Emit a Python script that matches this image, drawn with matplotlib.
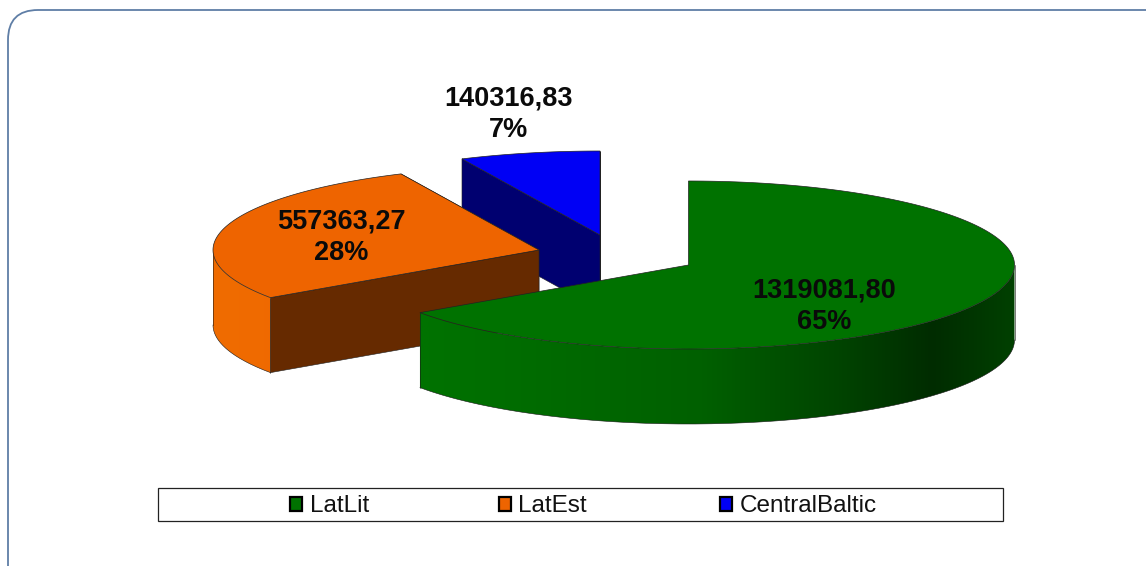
import numpy as np
import matplotlib
matplotlib.use('Agg')
import matplotlib.pyplot as plt
from matplotlib.colors import LinearSegmentedColormap
from matplotlib.patches import Polygon, Rectangle, FancyBboxPatch

labels = ['LatLit', 'LatEst', 'CentralBaltic']
values = [1319081.80, 557363.27, 140316.83]
value_text = ['1319081,80', '557363,27', '140316,83']
percent_text = ['65%', '28%', '7%']

top_colors = ['#007200', '#ee6400', '#0000f5']
side_colors = ['#004a00', '#662a00', '#000070']
wall_colors = [[(0, '#007200'), (0.1, '#007200'), (0.52, '#006000'), (0.73, '#004400'),
                (0.875, '#002c00'), (1, '#004000')],
               [(0, '#f06c00'), (0.3, '#ee6400'), (1, '#ee6400')],
               [(0, '#000070'), (1, '#000070')]]

W, H = 1146, 566
RX, RY, DEPTH = 326, 84, 75
centers = [(688.5, 265), (539, 250), (600, 235)]
text_pos = [(824, 306), (341, 237), (509, 114)]


# punkt na elipsie, kat liczony od gory zgodnie z zegarem
def ell(c, a):
    a = np.radians(a)
    return c[0] + RX * np.sin(a), c[1] - RY * np.cos(a)


fig = plt.figure(figsize=(W / 100, H / 100), dpi=100)
ax = fig.add_axes([0, 0, 1, 1])
ax.axis('off')

# ramka
ax.add_patch(FancyBboxPatch((8, 10), W + 40, H + 40, boxstyle='round,pad=0,rounding_size=30',
                            fc='white', ec='#5f7ea6', lw=1.3))

fractions = np.array(values) / sum(values)
ends = np.cumsum(fractions) * 360
starts = np.r_[0, ends[:-1]]


def sciana(a, b, c, cols, z):
    # zaokraglona sciana: gradient przyciety do ksztaltu
    ang = np.linspace(a, b, 150)
    xe, ye = ell(c, ang)
    pts = np.r_[np.column_stack([xe, ye]), np.column_stack([xe, ye + DEPTH])[::-1]]
    shape = Polygon(pts, fc='none', ec='none', zorder=z)
    ax.add_patch(shape)
    cmap = LinearSegmentedColormap.from_list('w', cols)
    grad = np.linspace(0, 1, 512).reshape(1, -1)
    im = ax.imshow(grad, cmap=cmap, aspect='auto', zorder=z,
                   extent=[c[0] - RX, c[0] + RX, c[1] + RY + DEPTH, c[1] - RY])
    im.set_clip_path(shape)
    ax.plot(xe, ye + DEPTH, color='#1a1a1a', lw=0.4, zorder=z + 0.1)
    ax.plot([xe[0], xe[0]], [ye[0], ye[0] + DEPTH], color='#1a1a1a', lw=0.4, zorder=z + 0.1)
    ax.plot([xe[-1], xe[-1]], [ye[-1], ye[-1] + DEPTH], color='#1a1a1a', lw=0.4, zorder=z + 0.1)


# kolejnosc: niebieski, pomaranczowy, zielony
for i in [2, 1, 0]:
    c = centers[i]
    z = 3 + (2 - i) * 2
    a, b = starts[i], ends[i]
    ang = np.linspace(a, b, 200)
    xs, ys = ell(c, ang)
    top = np.column_stack([np.r_[c[0], xs], np.r_[c[1], ys]])

    # sciany proste: najpierw tylna, potem przednia
    p = ell(c, a)
    q = ell(c, b)
    if i != 0:
        ax.add_patch(Polygon([c, q, (q[0], q[1] + DEPTH), (c[0], c[1] + DEPTH)],
                             fc=side_colors[i], ec='#222222', lw=0.4, zorder=z))
        ax.add_patch(Polygon([c, p, (p[0], p[1] + DEPTH), (c[0], c[1] + DEPTH)],
                             fc=side_colors[i], ec='#222222', lw=0.4, zorder=z))

    # sciana zaokraglona, tylko dolna czesc elipsy
    lo, hi = max(a, 90), min(b, 270)
    if hi > lo:
        sciana(lo, hi, c, wall_colors[i], z + 0.2)
    ax.add_patch(Polygon(top, fc=top_colors[i], ec='#222222', lw=0.5, zorder=z + 0.5))

for i in range(3):
    ax.text(text_pos[i][0], text_pos[i][1], value_text[i] + '\n' + percent_text[i],
            ha='center', va='center', fontsize=19.5, fontweight='bold', color='#0a0a0a',
            family='Liberation Sans', linespacing=1.27, zorder=20)

# legenda
ax.add_patch(Rectangle((157.5, 487.5), 845.5, 33, fc='white', ec='#222222', lw=0.9, zorder=20))
leg_x = [289.5, 498.5, 719.5]
for i in range(3):
    ax.add_patch(Rectangle((leg_x[i], 496.5), 12.5, 14, fc=top_colors[i], ec='black', lw=1.6, zorder=21))
    ax.text(leg_x[i] + 20, 512, labels[i], ha='left', va='baseline', fontsize=17.5,
            family='Liberation Sans', color='#111111', zorder=21)

ax.set_xlim(0, W)
ax.set_ylim(H, 0)

fig.savefig('out.png', dpi=100)
